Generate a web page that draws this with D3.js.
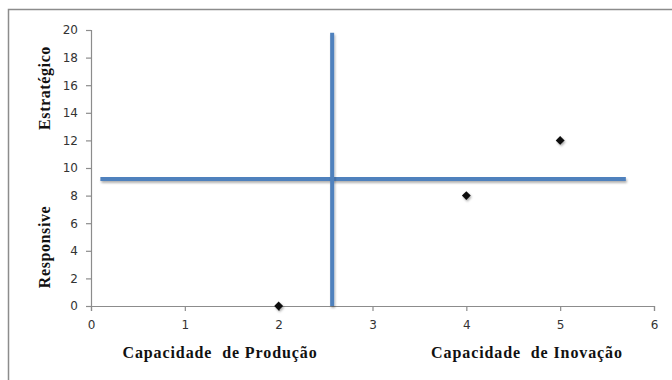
<!DOCTYPE html>
<html lang="pt">
<head>
    <meta charset="utf-8">
    <title>Capacidade de Produção x Capacidade de Inovação</title>
    <script src="https://d3js.org/d3.v7.min.js"></script>
    <style>
        body { margin: 0; background: #fff; }
    </style>
</head>
<body>
<script>
    // data
    const xTicks = [0, 1, 2, 3, 4, 5, 6];
    const yTicks = [0, 2, 4, 6, 8, 10, 12, 14, 16, 18, 20];
    const pointsX = [2, 4, 5];
    const pointsY = [0, 8, 12];
    // quadrant divider lines
    const hLineX = [0.1, 5.7];
    const hLineY = [9.2, 9.2];
    const vLineX = [2.57, 2.57];
    const vLineY = [0, 19.8];
    const yTitles = ["Estratégico", "Responsive"];
    const xTitles = ["Capacidade  de Produção", "Capacidade  de Inovação"];

    const width = 672, height = 380;
    const svg = d3.select("body").append("svg")
        .attr("width", width).attr("height", height);

    // outer chart border (cut off by the window on right and bottom)
    svg.append("rect")
        .attr("x", 8.5).attr("y", 9.5)
        .attr("width", 700).attr("height", 400)
        .attr("fill", "none").attr("stroke", "#8c8c8c").attr("stroke-width", 1.5);

    const x = d3.scaleLinear().domain([0, 6]).range([91, 654]);
    const y = d3.scaleLinear().domain([0, 20]).range([306, 30]);

    const defs = svg.append("defs");
    // shadow for the blue lines (user space, so flat lines keep a region)
    const f = defs.append("filter").attr("id", "shadow")
        .attr("filterUnits", "userSpaceOnUse")
        .attr("x", 0).attr("y", 0).attr("width", width).attr("height", height);
    f.append("feDropShadow").attr("dx", 1).attr("dy", 2).attr("stdDeviation", 1.2)
        .attr("flood-color", "#000").attr("flood-opacity", 0.3);
    // shadow for the markers
    const f2 = defs.append("filter").attr("id", "ptshadow")
        .attr("x", "-100%").attr("y", "-100%").attr("width", "300%").attr("height", "300%");
    f2.append("feDropShadow").attr("dx", 1).attr("dy", 1.5).attr("stdDeviation", 1)
        .attr("flood-color", "#000").attr("flood-opacity", 0.35);

    const axisColor = "#8c8c8c";

    // y axis
    const gy = svg.append("g").attr("transform", `translate(${x(0)},0)`)
        .call(d3.axisLeft(y).tickValues(yTicks).tickFormat(d3.format("d")).tickSize(5).tickPadding(8));
    // x axis
    const gx = svg.append("g").attr("transform", `translate(0,${y(0)})`)
        .call(d3.axisBottom(x).tickValues(xTicks).tickFormat(d3.format("d")).tickSize(5).tickPadding(9));

    [gx, gy].forEach(g => {
        g.select(".domain").attr("stroke", axisColor).attr("stroke-width", 1.2);
        g.selectAll(".tick line").attr("stroke", axisColor).attr("stroke-width", 1.2);
        g.selectAll(".tick text")
            .attr("fill", "#333")
            .style("font-family", "'DejaVu Sans', Verdana, sans-serif")
            .style("font-size", "12px");
    });

    // quadrant lines
    const line = d3.line().x(d => x(d[0])).y(d => y(d[1]));
    svg.append("path")
        .datum(d3.zip(hLineX, hLineY))
        .attr("d", line)
        .attr("fill", "none").attr("stroke", "#4f81bd").attr("stroke-width", 4)
        .attr("filter", "url(#shadow)");
    svg.append("path")
        .datum(d3.zip(vLineX, vLineY))
        .attr("d", line)
        .attr("fill", "none").attr("stroke", "#4f81bd").attr("stroke-width", 4)
        .attr("filter", "url(#shadow)");

    // points (diamonds)
    svg.selectAll(".pt")
        .data(d3.zip(pointsX, pointsY))
        .enter().append("path")
        .attr("class", "pt")
        .attr("d", d3.symbol().type(d3.symbolDiamond2).size(50))
        .attr("transform", d => `translate(${x(d[0])},${y(d[1])})`)
        .attr("fill", "#111")
        .attr("filter", "url(#ptshadow)");

    // axis titles
    const titleFont = "'Liberation Serif', 'Times New Roman', serif";
    const yTitleCenters = [88, 247];
    svg.selectAll(".ytitle")
        .data(yTitles)
        .enter().append("text")
        .attr("transform", (d, i) => `translate(50,${yTitleCenters[i]}) rotate(-90)`)
        .attr("text-anchor", "middle")
        .style("letter-spacing", "0.6px")
        .style("font-family", titleFont)
        .style("font-weight", "bold")
        .style("font-size", "16px")
        .attr("fill", "#111")
        .text(d => d);

    const xTitleCenters = [220, 527];
    svg.selectAll(".xtitle")
        .data(xTitles)
        .enter().append("text")
        .attr("x", (d, i) => xTitleCenters[i])
        .attr("y", 358)
        .attr("text-anchor", "middle")
        .attr("xml:space", "preserve")
        .style("white-space", "pre")
        .style("letter-spacing", "0.9px")
        .style("font-family", titleFont)
        .style("font-weight", "bold")
        .style("font-size", "16px")
        .attr("fill", "#111")
        .text(d => d);
</script>
</body>
</html>
